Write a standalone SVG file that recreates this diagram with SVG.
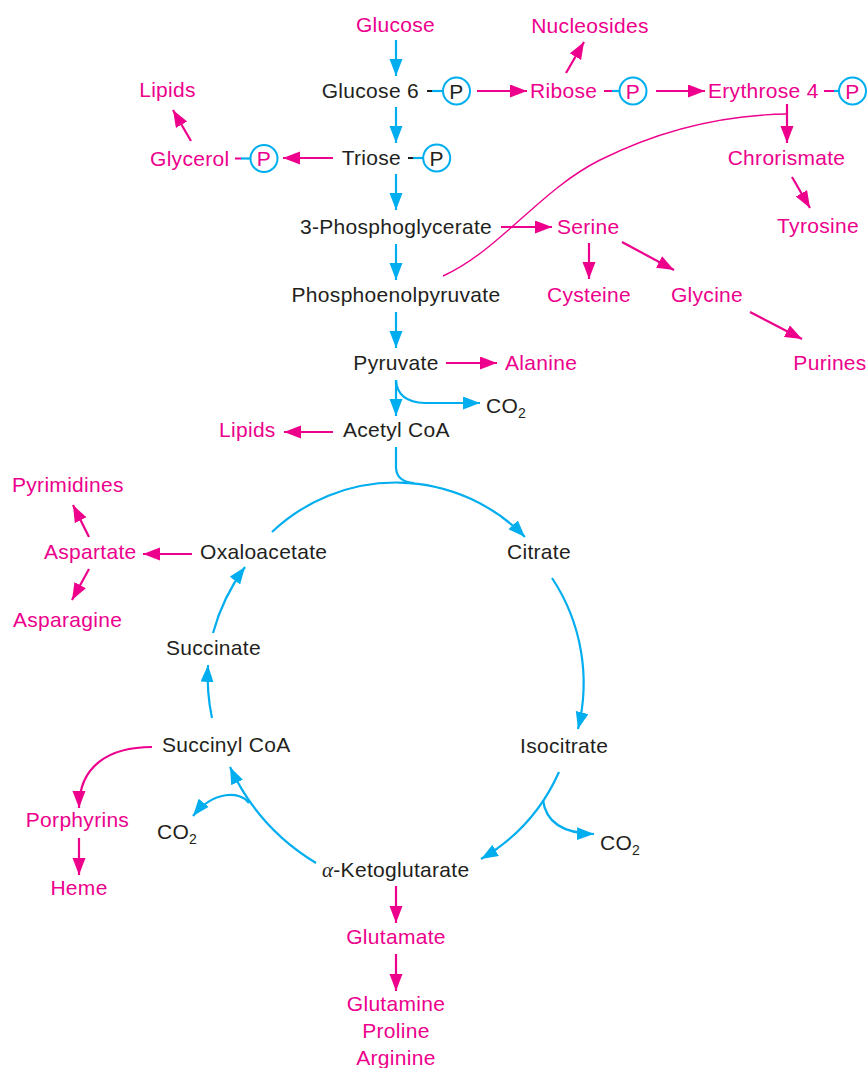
<svg xmlns="http://www.w3.org/2000/svg" width="867" height="1068" viewBox="0 0 867 1068">
<defs>
<style>
text{font-family:"Liberation Sans",Arial,sans-serif;font-size:21px;letter-spacing:0.3px}
.k{fill:#231F20}
.m{fill:#EC008C}
.c{text-anchor:middle}
.e{text-anchor:end}
.b{stroke:#00AEEF;stroke-width:2.2;fill:none}
.p{stroke:#EC008C;stroke-width:2.2;fill:none}
.bl{stroke:#00AEEF;stroke-width:2.2;fill:none;marker-end:url(#ab)}
.pl{stroke:#EC008C;stroke-width:2.2;fill:none;marker-end:url(#ap)}
.dk{stroke:#231F20;stroke-width:2}
.dm{stroke:#EC008C;stroke-width:2}
.ring{fill:#fff;stroke:#00AEEF;stroke-width:2}
</style>
<marker id="ab" markerUnits="userSpaceOnUse" markerWidth="18" markerHeight="14" refX="17" refY="6.5" orient="auto"><path d="M0,0 L17,6.5 L0,13 Z" fill="#00AEEF"/></marker>
<marker id="ap" markerUnits="userSpaceOnUse" markerWidth="18" markerHeight="14" refX="17" refY="6.5" orient="auto"><path d="M0,0 L17,6.5 L0,13 Z" fill="#EC008C"/></marker>
</defs>
<rect width="867" height="1068" fill="#fff"/>

<g id="connectors">
<path class="bl" d="M396,40 L396,76"/>
<path class="bl" d="M396,107 L396,143"/>
<path class="bl" d="M396,174 L396,210"/>
<path class="bl" d="M396,244 L396,280"/>
<path class="bl" d="M396,312 L396,348"/>
<path class="bl" d="M396,380 L396,416"/>
<path class="bl" d="M396,380 Q397,402 425,403 L480,403"/>
<path class="b" d="M396,447 L396,468 Q397,482 414,483"/>
<path class="bl" d="M272,532 A180,180 0 0 1 525,537"/>
<path class="bl" d="M552,578 A190,190 0 0 1 578,729"/>
<path class="bl" d="M559,772 A190,190 0 0 1 481,859"/>
<path class="bl" d="M543,800 Q547,833 594,834"/>
<path class="bl" d="M316,863 A220,220 0 0 1 230,767"/>
<path class="bl" d="M249,803 C240,791 214,790 193,816"/>
<path class="bl" d="M212,718 A200,200 0 0 1 208,665"/>
<path class="bl" d="M213,633 A200,200 0 0 1 245,567"/>
<path class="pl" d="M477,91 L527,91"/>
<path class="pl" d="M566,73 L584,42"/>
<path class="pl" d="M656,91 L705,91"/>
<path class="pl" d="M787,104 L787,143"/>
<path class="pl" d="M792,177 L810,208"/>
<path class="pl" d="M333,158 L283,158"/>
<path class="pl" d="M191,141 L173,110"/>
<path class="pl" d="M501,227 L552,227"/>
<path class="pl" d="M589,243 L589,279"/>
<path class="pl" d="M622,242 L674,270"/>
<path class="pl" d="M750,312 L802,339"/>
<path class="pl" d="M446,363 L497,363"/>
<path class="pl" d="M333,432 L284,432"/>
<path class="pl" d="M192,554 L143,554"/>
<path class="pl" d="M89,537 L73,505"/>
<path class="pl" d="M89,569 L72,600"/>
<path class="pl" d="M152,747 C110,747 79,765 79,808"/>
<path class="pl" d="M79,838 L79,875"/>
<path class="pl" d="M396,886 L396,923"/>
<path class="pl" d="M396,954 L396,991"/>
<path stroke="#EC008C" stroke-width="1.4" fill="none" d="M443,276 C500,250 540,190 600,160 C660,130 720,115 787,114"/>
</g>

<g id="glucose"><text class="m c" x="395.5" y="32">Glucose</text></g>
<g id="glucose6p">
<text class="k e" x="419" y="98">Glucose 6</text>
<line class="dk" x1="427" y1="91" x2="432" y2="91"/><line class="b" x1="432" y1="91" x2="443" y2="91"/>
<circle class="ring" cx="456.5" cy="91" r="13.5"/><text class="k c" x="456.5" y="98.5">P</text>
</g>
<g id="ribose5p">
<text class="m" x="530" y="98">Ribose</text>
<line class="dm" x1="604" y1="91" x2="612" y2="91"/><line class="b" x1="612" y1="91" x2="620" y2="91"/>
<circle class="ring" cx="633" cy="91" r="13.5"/><text class="m c" x="633" y="98.5">P</text>
</g>
<g id="nucleosides"><text class="m c" x="590" y="33">Nucleosides</text></g>
<g id="erythrose4p">
<text class="m" x="708" y="98">Erythrose 4</text>
<line class="dm" x1="824" y1="91" x2="834" y2="91"/><line class="b" x1="834" y1="91" x2="839" y2="91"/>
<circle class="ring" cx="852.5" cy="91" r="13.5"/><text class="m c" x="852.5" y="98.5">P</text>
</g>
<g id="lipids1"><text class="m c" x="167.5" y="97">Lipids</text></g>
<g id="glycerolp">
<text class="m" x="150" y="166">Glycerol</text>
<line class="dm" x1="235" y1="158.5" x2="241" y2="158.5"/><line class="b" x1="241" y1="158.5" x2="250" y2="158.5"/>
<circle class="ring" cx="264" cy="158.5" r="13.5"/><text class="m c" x="264" y="166">P</text>
</g>
<g id="triosep">
<text class="k e" x="401" y="165">Triose</text>
<line class="dk" x1="408" y1="158" x2="413" y2="158"/><line class="b" x1="413" y1="158" x2="423" y2="158"/>
<circle class="ring" cx="436.7" cy="158" r="13.5"/><text class="k c" x="436.7" y="165.5">P</text>
</g>
<g id="chorismate"><text class="m c" x="786.5" y="165">Chrorismate</text></g>
<g id="tyrosine"><text class="m c" x="818" y="233">Tyrosine</text></g>
<g id="pg3"><text class="k c" x="396" y="234">3-Phosphoglycerate</text></g>
<g id="serine"><text class="m" x="557" y="234">Serine</text></g>
<g id="pep"><text class="k c" x="396" y="302">Phosphoenolpyruvate</text></g>
<g id="cysteine"><text class="m c" x="589" y="302">Cysteine</text></g>
<g id="glycine"><text class="m c" x="707" y="302">Glycine</text></g>
<g id="purines"><text class="m c" x="830" y="370">Purines</text></g>
<g id="pyruvate"><text class="k c" x="396" y="370">Pyruvate</text></g>
<g id="alanine"><text class="m" x="505" y="370">Alanine</text></g>
<g id="co2a"><text class="k" x="486" y="413">CO<tspan font-size="14" dy="5">2</tspan></text></g>
<g id="acetylcoa"><text class="k" x="343" y="437">Acetyl CoA</text></g>
<g id="lipids2"><text class="m" x="219" y="437">Lipids</text></g>
<g id="pyrimidines"><text class="m" x="12" y="492">Pyrimidines</text></g>
<g id="aspartate"><text class="m" x="44" y="559">Aspartate</text></g>
<g id="asparagine"><text class="m" x="13" y="627">Asparagine</text></g>
<g id="oxaloacetate"><text class="k" x="200" y="559">Oxaloacetate</text></g>
<g id="citrate"><text class="k" x="507" y="559">Citrate</text></g>
<g id="succinate"><text class="k" x="166" y="655">Succinate</text></g>
<g id="succinylcoa"><text class="k" x="162" y="752">Succinyl CoA</text></g>
<g id="isocitrate"><text class="k" x="520" y="753">Isocitrate</text></g>
<g id="porphyrins"><text class="m c" x="77.5" y="827">Porphyrins</text></g>
<g id="heme"><text class="m c" x="79" y="895">Heme</text></g>
<g id="co2b"><text class="k" x="157" y="839">CO<tspan font-size="14" dy="5">2</tspan></text></g>
<g id="co2c"><text class="k" x="600" y="850">CO<tspan font-size="14" dy="5">2</tspan></text></g>
<g id="aketoglutarate"><text class="k" x="322" y="877"><tspan font-family="'Liberation Serif',serif" font-style="italic">α</tspan>-Ketoglutarate</text></g>
<g id="glutamate"><text class="m c" x="396" y="944">Glutamate</text></g>
<g id="glutamine"><text class="m c" x="396" y="1011">Glutamine</text><text class="m c" x="396" y="1038">Proline</text><text class="m c" x="396" y="1065">Arginine</text></g>
</svg>
